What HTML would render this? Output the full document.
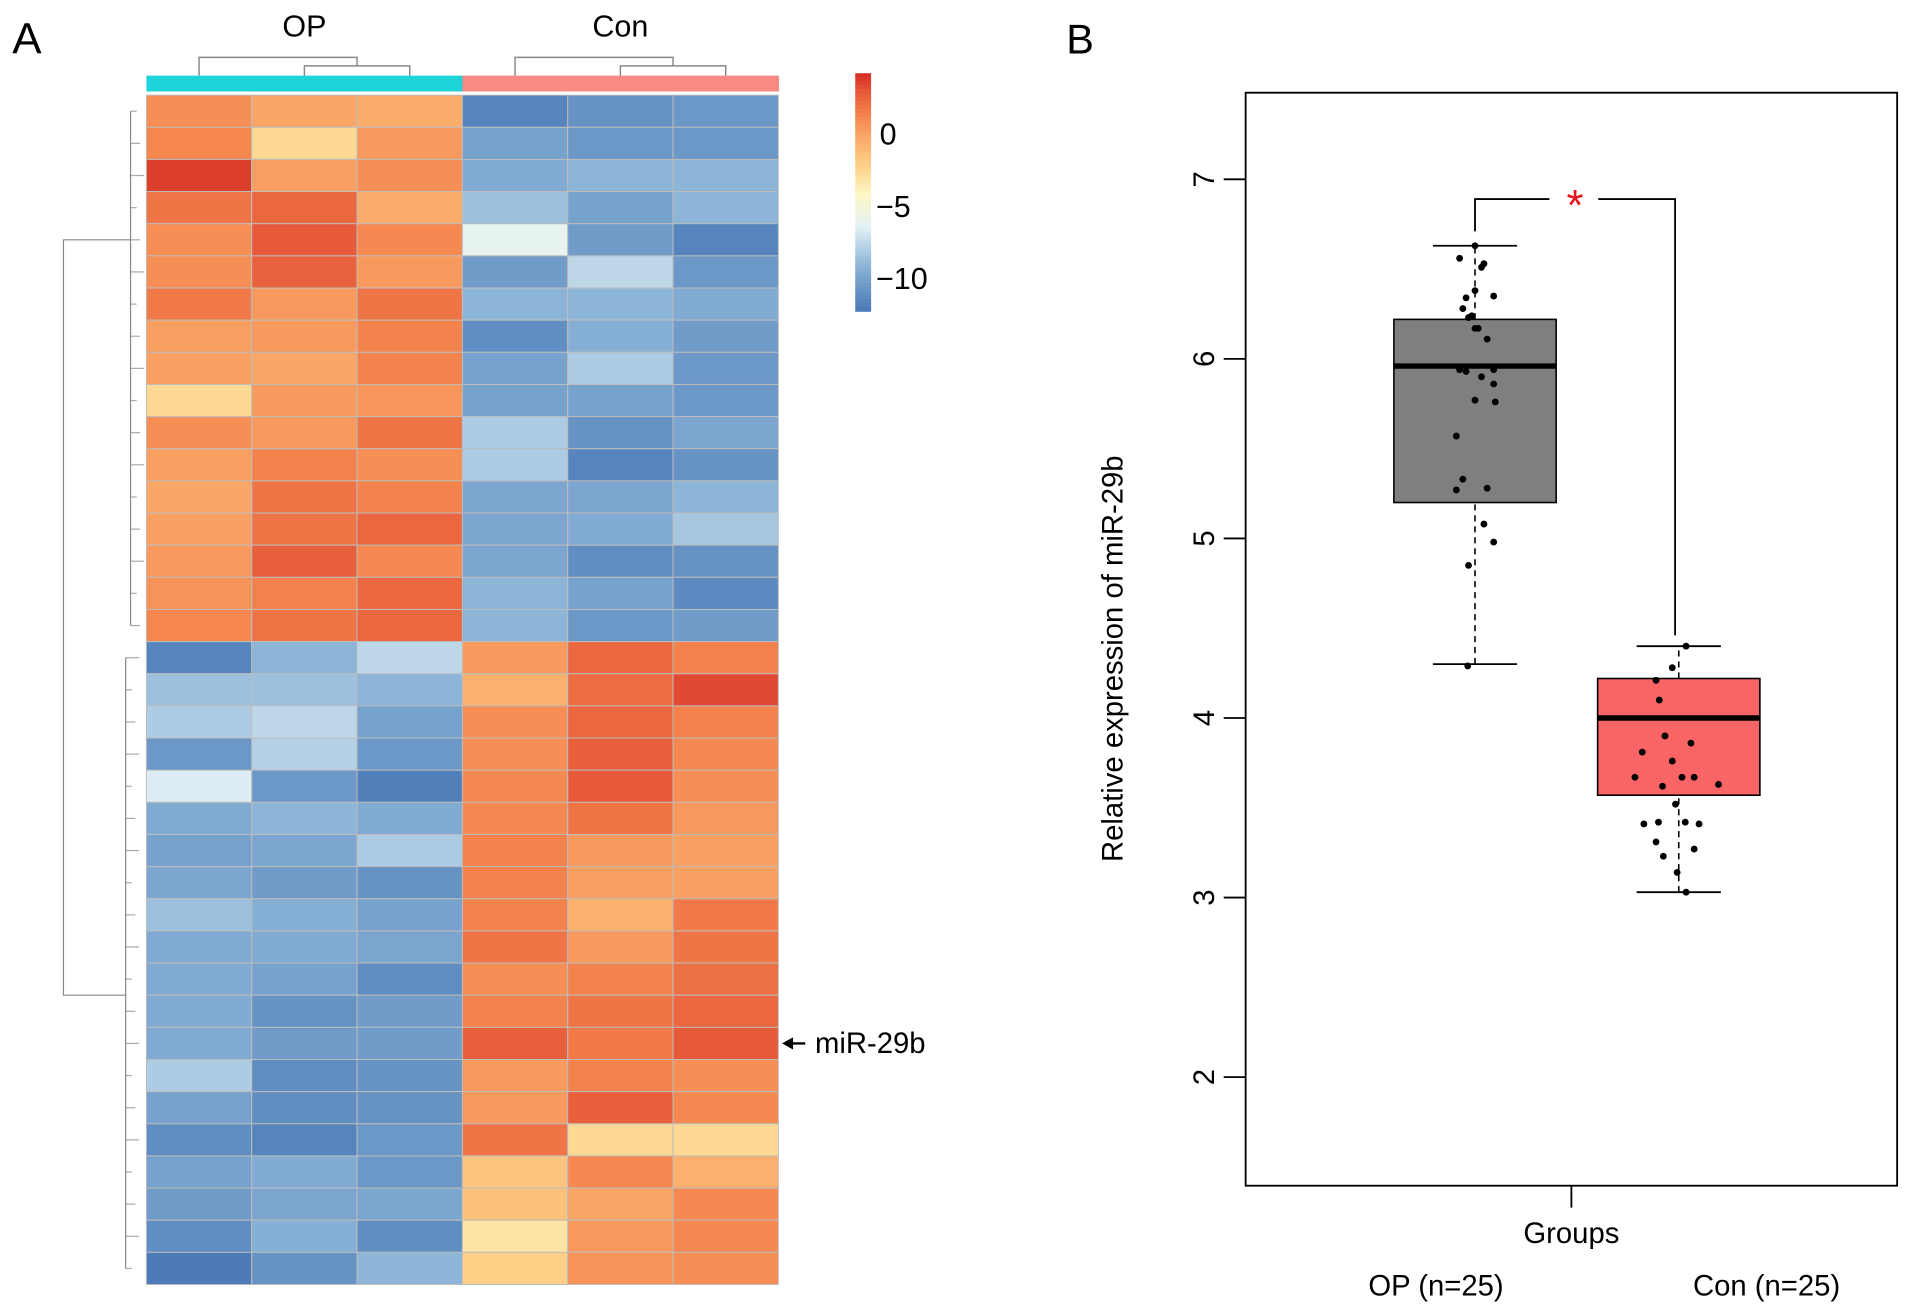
<!DOCTYPE html>
<html><head><meta charset="utf-8"><style>
html,body{margin:0;padding:0;background:#fff;}
svg{display:block;font-family:"Liberation Sans",Arial,sans-serif;}
</style></head><body>
<svg id="fig" width="1913" height="1315" viewBox="0 0 1568 1078" preserveAspectRatio="none">
<rect width="1568" height="1078" fill="#fff"/>
<g id="panelA"></g>
<g id="panelB"></g>
</svg>
<script>
// ---------- Heatmap data ----------
const hmCols = ["OP1","OP2","OP3","Con1","Con2","Con3"];
const hmGroups = ["OP","Con"];
const hmValues = [
[1,0,-0.3,-11.5,-10.8,-10.5],
[1.3,-2.5,0.5,-10,-10.5,-10.5],
[3.8,0.3,1,-9.5,-9,-9],
[2,2.5,-0.2,-8.5,-10,-9],
[1,3,1.2,-6,-10.3,-11.5],
[1,2.7,0.5,-10.3,-7.5,-10.5],
[1.8,0.5,2,-9,-9,-9.5],
[0.3,0.5,1.5,-11,-9.3,-10.3],
[0.2,0,1.5,-10,-8,-10.5],
[-2.5,0.5,0.7,-10,-10,-10.5],
[1,0.5,2,-8,-10.8,-9.8],
[0.3,1.5,1,-8,-11.5,-10.8],
[0,2,1.5,-9.8,-9.8,-9],
[0.2,2,2.5,-9.8,-9.5,-8.2],
[0.5,2.8,1.2,-9.8,-11,-10.8],
[0.8,1.5,2.5,-9,-10,-11.2],
[1.3,2,2.5,-9,-10.5,-10.3],
[-11.5,-9,-7.5,0.5,2.5,1.5],
[-8.5,-8.5,-9,-0.5,2.3,3.5],
[-8,-7.5,-10,1,2.5,1.5],
[-10.5,-7.8,-10.5,1,2.8,1.2],
[-6.5,-10.5,-11.8,1.2,3,1],
[-9.5,-9,-9.5,1.2,2,0.5],
[-10,-9.8,-8,1.5,0.5,0.2],
[-9.8,-10.3,-10.8,1.5,0.3,0.2],
[-8.5,-9.3,-10,1.5,-0.5,1.8],
[-9.5,-9.5,-9.8,2,0.5,2],
[-9.5,-10,-11,1,1.5,2.2],
[-9.5,-10.8,-10.3,1.5,2,2.5],
[-9.5,-10.3,-10.3,2.8,1.8,3],
[-8,-11,-10.8,0.5,1.5,1],
[-10,-11,-10.8,0.5,2.8,1.2],
[-11,-11.5,-10.5,2,-2.5,-2.5],
[-10,-9.5,-10.5,-1.5,1.2,-0.5],
[-10.3,-9.8,-9.8,-1.3,0,1.2],
[-11,-9.3,-11,-3,0.5,1.2],
[-12,-10.8,-9,-2,0.8,1]
];
const legendTicks = [0,-5,-10];
const labelRowIndex = 29;

// ---------- Boxplot data ----------
const bpGroups = ["OP (n=25)","Con (n=25)"];
const bpStats = [ // [lowWhisker, Q1, median, Q3, highWhisker]
 [4.3,5.2,5.96,6.22,6.63],
 [3.03,3.57,4.0,4.22,4.4]
];
const yTicks = [2,3,4,5,6,7];
const opVals = [6.63,6.56,6.51,6.53,6.38,6.34,6.35,6.28,6.24,6.23,6.17,6.17,6.11,5.94,5.93,5.94,5.90,5.86,5.77,5.76,5.57,5.33,5.27,5.28,5.08,4.98,4.85,4.29];
const opJitter = [0,-0.19,0.08,0.11,0,-0.11,0.23,-0.15,-0.04,-0.08,0,0.04,0.15,-0.19,-0.11,0.23,0.08,0.23,0,0.25,-0.23,-0.15,-0.23,0.15,0.11,0.23,-0.08,-0.09];
const conVals = [4.40,4.28,4.21,4.10,3.90,3.81,3.86,3.76,3.67,3.62,3.67,3.67,3.63,3.52,3.41,3.42,3.42,3.41,3.31,3.27,3.23,3.14,3.03];
const conJitter = [0.09,-0.08,-0.28,-0.24,-0.17,-0.45,0.15,-0.08,-0.54,-0.2,0.04,0.19,0.49,-0.04,-0.43,-0.25,0.08,0.25,-0.28,0.19,-0.19,-0.02,0.09];
const sigLabel = "*";

const NS="http://www.w3.org/2000/svg";
function mk(parent,tag,attrs,text){const e=document.createElementNS(NS,tag);for(const k in attrs)e.setAttribute(k,attrs[k]);if(text!==undefined)e.textContent=text;parent.appendChild(e);return e;}

const stops=[[-12.3,[69,117,180]],[-9,[141,181,216]],[-6.3,[228,242,246]],[-4,[254,246,196]],[-2.2,[253,211,138]],[0,[250,166,102]],[1.5,[244,130,76]],[3,[230,90,58]],[4.2,[215,48,39]]];
function col(v){if(v<=stops[0][0])return 'rgb('+stops[0][1]+')';for(let i=1;i<stops.length;i++){if(v<=stops[i][0]){const a=stops[i-1],b=stops[i];const t=(v-a[0])/(b[0]-a[0]);const c=a[1].map((x,j)=>Math.round(x+(b[1][j]-x)*t));return 'rgb('+c+')';}}return 'rgb('+stops[stops.length-1][1]+')';}

// ---------- Panel A ----------
const A=document.getElementById('panelA');
const hx0=120,hx1=638,hy0=78,hy1=1053;
const cw=(hx1-hx0)/hmCols.length, rh=(hy1-hy0)/hmValues.length;
const xCell=i=>hx0+i*cw, yCell=r=>hy0+r*rh;
let t=mk(A,'text',{x:10,y:44,'font-size':36},'A');

hmCols.forEach((c,i)=>{const r=mk(A,'rect',{x:xCell(i),y:62,width:cw+0.5,height:13,fill:i<3?'#1ED3DA':'#F98A83'});
});
hmGroups.forEach((g,i)=>{const tt=mk(A,'text',{x:xCell(i*3)+cw*1.5,y:30,'font-size':25,'text-anchor':'middle'},g);
});
const cd=mk(A,'g',{stroke:'#888',fill:'none','stroke-width':1.2});

[[0,0],[1,3]].forEach(([_,o])=>{const a=xCell(o)+cw*0.5,b=xCell(o+1)+cw*0.5,c=xCell(o+2)+cw*0.5;const m=(b+c)/2;
mk(cd,'path',{d:`M${a} 62V47H${m}V54M${b} 62V54H${c}V62`});});
hmValues.forEach((row,r)=>row.forEach((v,c)=>{const e=mk(A,'rect',{x:xCell(c),y:yCell(r),width:cw,height:rh,fill:col(v),stroke:'#bdbdbd','stroke-width':0.8});
}));
const rd=mk(A,'g',{stroke:'#888',fill:'none','stroke-width':1});

const split=17;
const topMid=yCell(4.5), botMid=yCell(split+11);
mk(rd,'path',{d:`M107 ${topMid}H52V${botMid}H103`});
mk(rd,'path',{d:`M107 ${yCell(0.5)}V${yCell(split-0.5)}M103 ${yCell(split+0.5)}V${yCell(hmValues.length-0.5)}`});
hmValues.forEach((_,r)=>{const x=r<split?107:103;mk(rd,'path',{d:`M${x} ${yCell(r+0.5)}H${x+5+(r%3)*3}`,'stroke-opacity':0.7});});
const lg=mk(A,'g',{});
const vTop=4.2,vBot=-12.3,ly0=60,ly1=255;const ly=v=>ly0+(vTop-v)/(vTop-vBot)*(ly1-ly0);
for(let i=0;i<60;i++){const v=vTop-(vTop-vBot)*i/60;mk(lg,'rect',{x:701,y:ly(v),width:13,height:(ly1-ly0)/60+0.6,fill:col(v)});}
legendTicks.forEach(v=>{const tt=mk(lg,'text',{x:v<0?718:721,y:ly(v)+9,'font-size':25},v<0?'\u2212'+Math.abs(v):String(v));
});
const ay=yCell(labelRowIndex+0.5);
const ar=mk(A,'g',{});
mk(ar,'path',{d:`M643 ${ay}H660`,stroke:'#000','stroke-width':2});
mk(ar,'path',{d:`M641 ${ay}l9 -5v10z`,fill:'#000'});
mk(ar,'text',{x:668,y:ay+8,'font-size':24},'miR-29b');

// ---------- Panel B ----------
const B=document.getElementById('panelB');
t=mk(B,'text',{x:874,y:44,'font-size':34},'B');

const px0=1021,px1=1555,py0=76,py1=972;
const yv=v=>147+(7-v)*147.2;
const centers=[1209,1376], bw=133, capw=69;
const frame=mk(B,'rect',{x:px0,y:py0,width:px1-px0,height:py1-py0,fill:'none',stroke:'#000','stroke-width':1.5});

const ya=mk(B,'g',{});
yTicks.forEach(v=>{mk(ya,'path',{d:`M1003 ${yv(v)}H${px0}`,stroke:'#000','stroke-width':1.5});
const tt=mk(ya,'text',{x:0,y:0,'font-size':24,'text-anchor':'middle',transform:`translate(995 ${yv(v)}) rotate(-90)`},String(v));
});
t=mk(B,'text',{x:0,y:0,'font-size':24,'text-anchor':'middle',transform:'translate(920 540) rotate(-90)'},'Relative expression of miR-29b');

mk(B,'path',{d:`M1288 ${py1}V990`,stroke:'#000','stroke-width':1.5});
t=mk(B,'text',{x:1288,y:1019,'font-size':24,'text-anchor':'middle'},'Groups');

bpGroups.forEach((g,i)=>{const tt=mk(B,'text',{x:[1177,1448][i],y:1062,'font-size':24,'text-anchor':'middle'},g);
});
const fills=['#7F7F7F','#F96467'];
bpStats.forEach((s,i)=>{const cx=centers[i];const g=mk(B,'g',{});

mk(g,'path',{d:`M${cx} ${yv(s[0])}V${yv(s[1])}M${cx} ${yv(s[3])}V${yv(s[4])}`,stroke:'#000','stroke-width':1.3,'stroke-dasharray':'5,4'});
mk(g,'path',{d:`M${cx-capw/2} ${yv(s[0])}H${cx+capw/2}M${cx-capw/2} ${yv(s[4])}H${cx+capw/2}`,stroke:'#000','stroke-width':1.5});
mk(g,'rect',{x:cx-bw/2,y:yv(s[3]),width:bw,height:yv(s[1])-yv(s[3]),fill:fills[i],stroke:'#000','stroke-width':1.3});
mk(g,'path',{d:`M${cx-bw/2} ${yv(s[2])}H${cx+bw/2}`,stroke:'#000','stroke-width':4.5});});
[[opVals,opJitter,0],[conVals,conJitter,1]].forEach(([vals,jit,i])=>{vals.forEach((v,k)=>{
const d=mk(B,'circle',{cx:centers[i]+jit[k]*bw/2,cy:yv(v),r:2.8,fill:'#000'});
});});
const sig=mk(B,'g',{});
const by=yv(6.89);
mk(sig,'path',{d:`M${centers[0]} ${yv(6.71)}V${by}H1270M1310 ${by}H1373V${yv(4.46)}`,stroke:'#000','stroke-width':1.5,fill:'none'});
mk(sig,'text',{x:1291,y:by+17,'font-size':36,'text-anchor':'middle',fill:'#E8141B'},sigLabel);
</script>
</body></html>
